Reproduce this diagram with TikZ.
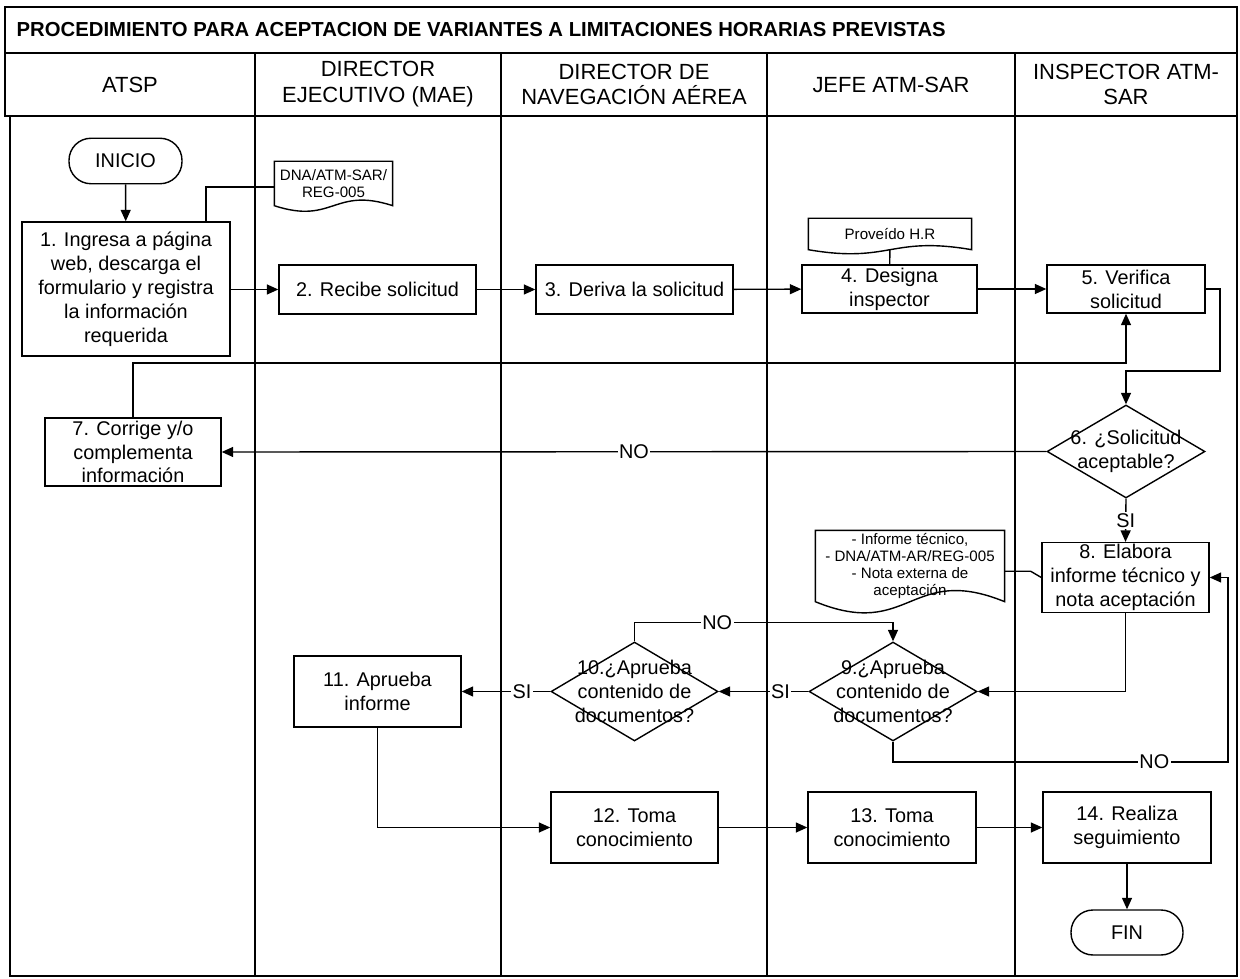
\documentclass[tikz,border=0pt]{standalone}
\usepackage{fontspec}
\setmainfont{Liberation Sans}
\usetikzlibrary{arrows.meta, shapes.geometric, calc}

\newcommand{\boxfont}{\fontsize{11.3}{13.6}\selectfont}
\newcommand{\headfont}{\fontsize{12.5}{14.7}\selectfont}
\newcommand{\docfont}{\fontsize{8.6}{9.8}\selectfont}
% outline of a document symbol round a node
\newcommand{\docoutline}[2]{%
  \draw (#1.north west) -- (#1.north east) -- (#1.south east)
    .. controls ([yshift=#2]#1.south) and ([yshift=-#2]#1.south) .. (#1.south west) -- cycle;}

\tikzset{
  proc/.style={rectangle, draw, align=center, inner sep=1pt, font=\boxfont},
  term/.style={rectangle, draw, rounded corners=4.4mm, align=center, font=\boxfont,
    minimum width=22.6mm, minimum height=9.1mm},
  decision/.style={diamond, draw, inner sep=0pt},
  dtext/.style={align=center, inner sep=0pt, font=\boxfont},
  doc/.style={align=center, inner sep=0pt, font=\docfont},
  head/.style={align=center, font=\headfont},
  lbl/.style={fill=white, inner sep=0.8pt, font=\boxfont},
  arr/.style={-{Triangle[length=2.3mm,width=2mm]}}
}

\begin{document}
\begin{tikzpicture}[x=0.02cm, y=-0.02cm, line width=0.8pt]
  \useasboundingbox (0,0) rectangle (1240,979);

  % frame and lanes
  \draw (5,7) rectangle (1237,53);
  \draw (5,53) rectangle (1237,116);
  \draw (10,116) rectangle (1237,976);
  \foreach \x in {255,501,767,1015}
    \draw (\x,53) -- (\x,976);

  \node[anchor=west, inner sep=0pt, font=\fontsize{11.55}{13}\selectfont\bfseries] (title) at (16,30)
    {PROCEDIMIENTO PARA ACEPTACION DE VARIANTES A LIMITACIONES HORARIAS PREVISTAS};

  \node[head] (h1) at (130,84.5) {ATSP};
  \node[head] (h2) at (378,84.5) {DIRECTOR\\EJECUTIVO (MAE)};
  \node[head] (h3) at (634,84.5) {DIRECTOR DE\\NAVEGACIÓN AÉREA};
  \node[head] (h4) at (891,84.5) {JEFE ATM-SAR};
  \node[head] (h5) at (1126,84.5) {INSPECTOR ATM-\\SAR};

  % steps
  \node[term] (inicio) at (125.5,161) {INICIO};
  \node[proc, minimum width=41.6mm, minimum height=26.8mm] (b1) at (126,289)
    {1. Ingresa a página\\web, descarga el\\formulario y registra\\la información\\requerida};
  \node[proc, minimum width=39.4mm, minimum height=9.8mm] (b2) at (377.5,289.5) {2. Recibe solicitud};
  \node[proc, minimum width=39.4mm, minimum height=9.8mm] (b3) at (634.5,289.5) {3. Deriva la solicitud};
  \node[proc, minimum width=35mm, minimum height=9.6mm] (b4) at (889.5,289) {4. Designa\\inspector};
  \node[proc, minimum width=31.6mm, minimum height=9.6mm] (b5) at (1126,289) {5. Verifica\\solicitud};

  \node[doc, minimum width=23.4mm, minimum height=8.6mm] (docreg) at (333.5,183.5) {DNA/ATM-SAR/\\REG-005};
  \docoutline{docreg}{11pt}
  \node[doc, minimum width=32.4mm, minimum height=6mm] (docprov) at (890,234) {Proveído H.R};
  \docoutline{docprov}{8pt}

  \node[decision, minimum width=31.6mm, minimum height=18.6mm] (d6) at (1126,451.5) {};
  \node[dtext] (t6) at (d6) {6. ¿Solicitud\\aceptable?};
  \node[proc, minimum width=35.2mm, minimum height=13.6mm] (b7) at (133,452)
    {7. Corrige y/o\\complementa\\información};
  \node[proc, minimum width=33.4mm, minimum height=13.8mm] (b8) at (1125.5,577.5)
    {8. Elabora\\informe técnico y\\nota aceptación};
  \node[doc, minimum width=37.6mm, minimum height=14mm] (docinf) at (910,566)
    {- Informe técnico,\\- DNA/ATM-AR/REG-005\\- Nota externa de\\aceptación};
  \docoutline{docinf}{22pt}

  \node[decision, minimum width=33.6mm, minimum height=19.8mm] (d9) at (893,691.5) {};
  \node[dtext] (t9) at (d9) {9.¿Aprueba\\contenido de\\documentos?};
  \node[decision, minimum width=33.4mm, minimum height=19.8mm] (d10) at (634.5,691.5) {};
  \node[dtext] (t10) at (d10) {10.¿Aprueba\\contenido de\\documentos?};
  \node[proc, minimum width=33.4mm, minimum height=14.2mm] (b11) at (377.5,691.5) {11. Aprueba\\informe};
  \node[proc, minimum width=33.4mm, minimum height=14.2mm] (b12) at (634.5,827.5) {12. Toma\\conocimiento};
  \node[proc, minimum width=33.6mm, minimum height=14.2mm] (b13) at (892,827.5) {13. Toma\\conocimiento};
  \node[proc, minimum width=33.6mm, minimum height=14.2mm] (b14) at (1127,827.5) {14. Realiza\\seguimiento};
  \node[term, minimum width=22.4mm, minimum height=9mm] (fin) at (1127,932.5) {FIN};

  \coordinate (c5) at (1220,371);
  \coordinate (c7) at (1126,363);
  \coordinate (c9) at (1228,762);

  % connectors
  \draw[arr] (inicio) -- (b1);
  \draw ([xshift=-14pt]b1.north east) |- ([yshift=-2pt]docreg.west);
  \draw[arr] (b1.east |- b2) -- (b2);
  \draw[arr] (b2) -- (b3);
  \draw[arr] (b3) -- (b4);
  \draw (docprov) -- (b4);
  \draw[arr] (b4) -- (b5);
  \draw[arr] (b5.east) -| (c5) -| (d6.north);
  \draw[arr] (b7.north) |- (c7) -- (b5.south);
  \draw[arr] (d6.west) -- node[lbl] {NO} (b7.east);
  \draw[arr] (d6.south) -- node[lbl] {SI} (b8.north);
  \draw ([yshift=-3pt]docinf.east) -- ++(26,0) -- (b8.west);
  \draw[arr] (b8.south) |- (d9.east);
  \draw[arr] (d9.south) |- node[lbl, pos=0.89] {NO} (c9) |- (b8.east);
  \draw[arr] (d9.west) -- node[lbl, pos=0.31] {SI} (d10.east);
  \draw[arr] (d10.north) -- ++(0,-19) -| node[lbl, pos=0.16] {NO} (d9.north);
  \draw[arr] (d10.west) -- node[lbl, pos=0.32] {SI} (b11.east);
  \draw[arr] (b11.south) |- (b12.west);
  \draw[arr] (b12) -- (b13);
  \draw[arr] (b13) -- (b14);
  \draw[arr] (b14) -- (fin);
\end{tikzpicture}
\end{document}
